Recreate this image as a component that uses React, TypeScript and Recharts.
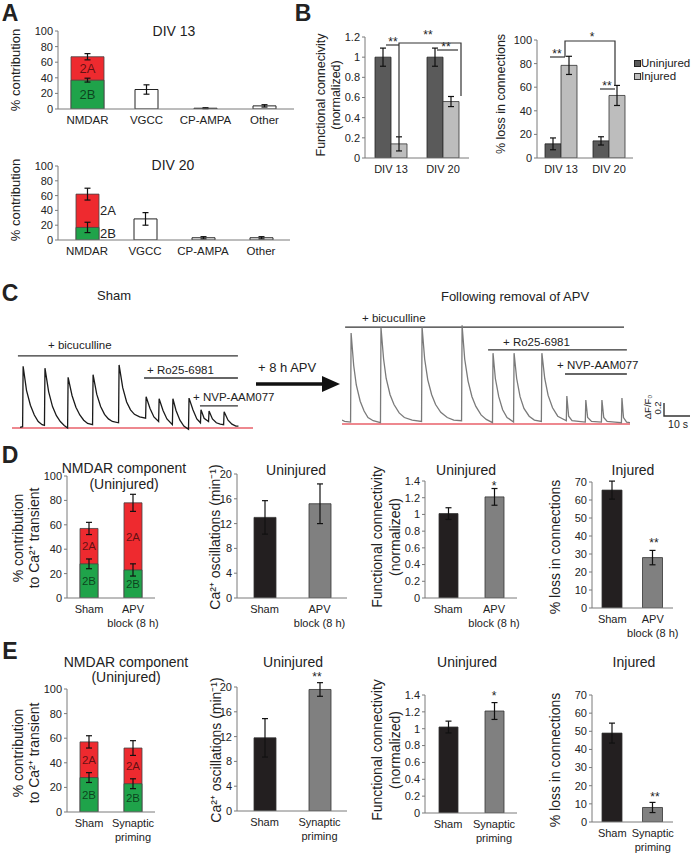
import React from "react";
import {
  BarChart,
  Bar,
  XAxis,
  YAxis,
  ErrorBar,
  Cell,
  LabelList,
  LineChart,
  Line,
  ReferenceLine,
} from "recharts";

const FONT = '"Liberation Sans", Arial, sans-serif';
const INK = "#222";
const AXIS = "#7a7a7a";
const RED = "#ee2a2f";
const GREEN = "#1fa34a";

// ---- panel A: % contribution by channel ----
const aCats = ["NMDAR", "VGCC", "CP-AMPA", "Other"];
const div13Nr2B = [37, null, null, null];
const div13Nr2BErr = [2.5, null, null, null];
const div13Nr2A = [30, null, null, null];
const div13TotalErr = [4, null, null, null];
const div13Single = [null, 25, 1, 4];
const div13SingleErr = [null, 6, 0.6, 1.5];

const div20Nr2B = [17, null, null, null];
const div20Nr2BErr = [7, null, null, null];
const div20Nr2A = [45, null, null, null];
const div20TotalErr = [8, null, null, null];
const div20Single = [null, 28.5, 3, 3];
const div20SingleErr = [null, 8.5, 1.5, 1.5];

// ---- panel B ----
const bCats = ["DIV 13", "DIV 20"];
const fcUninj = [1, 1];
const fcUninjErr = [0.09, 0.09];
const fcInj = [0.14, 0.56];
const fcInjErr = [0.07, 0.05];
const lossUninj = [12, 14.5];
const lossUninjErr = [5, 3.5];
const lossInj = [78.5, 53];
const lossInjErr = [7.7, 8.5];

// ---- panel C: Ca2+ traces, [time s, dF/F0] ----
const shamTrace: [number, number][] = [
  [0, 0.01], [1.0, 0.02], [1.2, 0.95], [2.5, 0.58], [4, 0.35], [5.5, 0.2], [7, 0.1], [8.5, 0.05], [9.4, 0.04],
  [9.6, 0.92], [11, 0.56], [12.5, 0.33], [14, 0.19], [15.5, 0.1], [17, 0.04], [18.3, 0.0],
  [18.5, 0.78], [20, 0.5], [21.5, 0.32], [23, 0.2], [24.5, 0.12], [26, 0.07], [27.9, 0.05],
  [28.1, 0.82], [29.5, 0.52], [31, 0.33], [32.5, 0.21], [34, 0.14], [35.5, 0.1], [37.9, 0.08],
  [38.1, 0.97], [39.5, 0.62], [41, 0.4], [42.5, 0.28], [44, 0.21], [46, 0.17], [48.3, 0.15],
  [48.5, 0.48], [50, 0.3], [51.5, 0.17], [53.3, 0.1],
  [53.5, 0.45], [55, 0.27], [56.5, 0.14], [58.6, 0.05],
  [58.8, 0.45], [60, 0.27], [61.5, 0.12], [63, 0.03], [64.8, -0.02],
  [65, 0.46], [66.5, 0.28], [68, 0.14], [69.4, 0.08],
  [69.6, 0.28], [70.8, 0.15], [72.5, 0.1],
  [72.7, 0.26], [74, 0.14], [75.5, 0.08], [77, 0.06], [78.3, 0.05],
  [78.5, 0.25], [80, 0.12], [81.5, 0.06], [83, 0.03], [84, 0.03],
];
const apvTrace: [number, number][] = [
  [0, 0.06], [1, 0.04], [3.3, 0.03],
  [3.5, 1.4], [4.5, 0.9], [5.5, 0.6], [7, 0.35], [8.5, 0.2], [10, 0.1], [12, 0.05], [14.8, 0.02],
  [15, 1.48], [16, 1.0], [17, 0.7], [18.5, 0.45], [20, 0.3], [22, 0.17], [24, 0.1], [27, 0.06], [30.6, 0.04],
  [30.8, 1.49], [31.8, 1.0], [33, 0.68], [34.5, 0.45], [36, 0.3], [38, 0.18], [40.5, 0.1], [43, 0.06], [46, 0.05],
  [46.2, 1.52], [47.2, 1.0], [48.5, 0.66], [50, 0.42], [51.5, 0.27], [53.5, 0.14], [55.5, 0.07], [57.9, 0.02],
  [58.1, 1.09], [59, 0.7], [60.3, 0.42], [61.8, 0.22], [63.5, 0.1], [66, 0.03],
  [66.2, 1.09], [67.2, 0.7], [68.5, 0.42], [70, 0.24], [72, 0.12], [74, 0.06], [76.7, 0.04],
  [76.9, 1.09], [78, 0.7], [79.3, 0.44], [81, 0.25], [83, 0.12], [86.3, 0.05],
  [86.5, 0.43], [87.2, 0.12], [88.5, 0.05], [91, 0.04], [93.6, 0.03],
  [93.8, 0.37], [94.5, 0.1], [96, 0.04], [99.8, 0.03],
  [100, 0.37], [100.7, 0.1], [102, 0.04], [105, 0.03], [107.5, 0.02],
  [107.7, 0.4], [108.3, 0.1], [109.5, 0.03], [110.8, 0.02],
];
// drug application bars: [start s, end s, level]
const shamDrugs: [number, number, number][] = [[-0.8, 83.8, 1.11], [47.7, 83.8, 0.77], [69.2, 83.8, 0.34]];
const apvDrugs: [number, number, number][] = [[1.2, 108.5, 1.49], [56.2, 109.6, 1.14], [85.8, 109.6, 0.77]];

// ---- panel D ----
const dCats = ["Sham", "APV\nblock (8 h)"];
const dNr2B = [28, 23];
const dNr2BErr = [4, 5];
const dNr2A = [29, 55];
const dTotalErr = [5, 7];
const dOsc = [13, 15.2];
const dOscErr = [2.7, 3.2];
const dFc = [1.01, 1.21];
const dFcErr = [0.07, 0.1];
const dLoss = [65.5, 28];
const dLossErr = [5, 4];

// ---- panel E ----
const eCats = ["Sham", "Synaptic\npriming"];
const eNr2B = [28, 23];
const eNr2BErr = [4, 4];
const eNr2A = [29, 29];
const eTotalErr = [5, 6];
const eOsc = [11.8, 19.6];
const eOscErr = [3.1, 1.1];
const eFc = [1.02, 1.21];
const eFcErr = [0.07, 0.1];
const eLoss = [49, 8];
const eLossErr = [5.5, 2.8];

type Row = Record<string, any>;

function nmdaRows(cats: string[], b: any[], bErr: any[], a: any[], totErr: any[], single?: any[], singleErr?: any[]): Row[] {
  return cats.map((cat, i) => ({
    cat,
    b: b[i],
    bErr: bErr[i],
    a: a[i],
    tot: b[i] == null ? null : b[i] + a[i],
    totErr: totErr[i],
    single: single ? single[i] : null,
    singleErr: singleErr ? singleErr[i] : null,
  }));
}

function pairRows(cats: string[], v: number[], err: number[]): Row[] {
  return cats.map((cat, i) => ({ cat, v: v[i], err: err[i] }));
}

function groupRows(cats: string[], u: number[], uErr: number[], j: number[], jErr: number[]): Row[] {
  return cats.map((cat, i) => ({ cat, u: u[i], uErr: uErr[i], j: j[i], jErr: jErr[i] }));
}

const catTick = (fs: number) => (p: any) => {
  const lines = String(p.payload.value).split("\n");
  return (
    <text x={p.x} y={p.y} textAnchor="middle" fontSize={fs} fill={INK} fontFamily={FONT}>
      {lines.map((l, i) => (
        <tspan key={i} x={p.x} dy={i === 0 ? 9 : 14}>
          {l}
        </tspan>
      ))}
    </text>
  );
};

function Txt({ x, y, children, size = 12, rot = 0, bold = false, start = false }: any) {
  return (
    <div
      style={{
        position: "absolute",
        left: x,
        top: y,
        transform: `translate(${start ? "0" : "-50%"}, -50%) rotate(${rot}deg)`,
        fontSize: size,
        fontWeight: bold ? 700 : 400,
        fontFamily: FONT,
        color: INK,
        whiteSpace: "nowrap",
        lineHeight: 1.1,
      }}
    >
      {children}
    </div>
  );
}

const Star = ({ x, y, s }: any) => (
  <Txt x={x} y={y + 3} size={12}>
    {s}
  </Txt>
);

function BarPanel({ x0, y0, x1, y1, data, domain, ticks, hidden = [], xh = 34, fs = 11, children }: any) {
  const w = 40;
  const mt = 8;
  const mr = 20;
  return (
    <div style={{ position: "absolute", left: x0 - w, top: y0 - mt }}>
      <BarChart
        width={w + x1 - x0 + mr}
        height={mt + y1 - y0 + xh}
        data={data}
        margin={{ top: mt, right: mr, left: 0, bottom: 0 }}
        barGap={0}
      >
        <XAxis
          xAxisId="a"
          dataKey="cat"
          height={xh}
          interval={0}
          tickLine={false}
          tickSize={4}
          tickMargin={2}
          axisLine={{ stroke: AXIS }}
          tick={catTick(fs)}
        />
        {hidden.map((id: string) => (
          <XAxis key={id} xAxisId={id} dataKey="cat" hide />
        ))}
        <YAxis
          width={w}
          domain={domain}
          ticks={ticks}
          interval={0}
          allowDataOverflow
          tickSize={3}
          tickMargin={2}
          axisLine={{ stroke: AXIS }}
          tickLine={{ stroke: AXIS }}
          tick={{ fontSize: 11, fill: INK, fontFamily: FONT }}
        />
        {children}
      </BarChart>
    </div>
  );
}

// label for the 2A / 2B parts of the NMDAR bar
const tag = (rows: Row[], which: "a" | "b", outside: boolean, size: number) => (p: any) => {
  const row = rows[p.index];
  if (!row || row.b == null) return null;
  const vb = p.viewBox && p.viewBox.width != null ? p.viewBox : p;
  const { x, y, width, height } = vb;
  const cy = which === "b" ? y + height / 2 : y + (height * (row.a / row.tot)) / 2;
  const cx = outside ? x + width + 1 : x + width / 2;
  return (
    <text
      key={`${which}-${p.index}`}
      x={cx}
      y={cy}
      dy="0.36em"
      textAnchor={outside ? "start" : "middle"}
      fontSize={size}
      fontFamily={FONT}
      fill={outside ? INK : "#000"}
      fillOpacity={outside ? 1 : 0.6}
    >
      {which === "a" ? "2A" : "2B"}
    </text>
  );
};

function NmdaBars({ rows, size, outside, tagSize }: any) {
  return [
    <Bar key="tot" xAxisId="b" dataKey="tot" fill={RED} stroke="#444" strokeWidth={0.8} barSize={size} isAnimationActive={false}>
      <ErrorBar dataKey="totErr" width={3} stroke="#111" strokeWidth={1.2} />
      <LabelList dataKey="tot" content={tag(rows, "a", !!outside, tagSize)} />
    </Bar>,
    <Bar key="b" xAxisId={outside === null ? "a" : "c"} dataKey="b" fill={GREEN} stroke="#444" strokeWidth={0.8} barSize={size} isAnimationActive={false}>
      <ErrorBar dataKey="bErr" width={3} stroke="#111" strokeWidth={1.2} />
      <LabelList dataKey="b" content={tag(rows, "b", !!outside, tagSize)} />
    </Bar>,
  ];
}

function Trace({ left, top, width, height, xDomain, yDomain, pts, color, drugs }: any) {
  const data = pts.map(([t, v]: [number, number]) => ({ t, v }));
  return (
    <div style={{ position: "absolute", left, top }}>
      <LineChart width={width} height={height} data={data} margin={{ top: 0, right: 0, left: 0, bottom: 0 }}>
        <XAxis type="number" dataKey="t" domain={xDomain} hide allowDataOverflow />
        <YAxis type="number" domain={yDomain} hide allowDataOverflow />
        <ReferenceLine y={0} stroke="#e8606a" strokeWidth={1.4} />
        {drugs.map(([s, e, lv]: [number, number, number], i: number) => (
          <ReferenceLine
            key={i}
            segment={[
              { x: s, y: lv },
              { x: e, y: lv },
            ]}
            stroke="#333"
            strokeWidth={1.4}
          />
        ))}
        <Line dataKey="v" type="linear" stroke={color} strokeWidth={1.3} dot={false} isAnimationActive={false} />
      </LineChart>
    </div>
  );
}

const div13Rows = nmdaRows(aCats, div13Nr2B, div13Nr2BErr, div13Nr2A, div13TotalErr, div13Single, div13SingleErr);
const div20Rows = nmdaRows(aCats, div20Nr2B, div20Nr2BErr, div20Nr2A, div20TotalErr, div20Single, div20SingleErr);
const dNmdaRows = nmdaRows(dCats, dNr2B, dNr2BErr, dNr2A, dTotalErr);
const eNmdaRows = nmdaRows(eCats, eNr2B, eNr2BErr, eNr2A, eTotalErr);
const fcRows = groupRows(bCats, fcUninj, fcUninjErr, fcInj, fcInjErr);
const lossRows = groupRows(bCats, lossUninj, lossUninjErr, lossInj, lossInjErr);

const SHADES = ["#231f20", "#808080"];

function PairBars({ size }: { size: number }) {
  return (
    <Bar xAxisId="a" dataKey="v" barSize={size} stroke="#333" strokeWidth={0.8} isAnimationActive={false}>
      {SHADES.map((c, i) => (
        <Cell key={i} fill={c} />
      ))}
      <ErrorBar dataKey="err" width={3} stroke="#111" strokeWidth={1.2} />
    </Bar>
  );
}

function AChart({ rows, y0, y1, x1, size, outside }: any) {
  return (
    <BarPanel x0={58} y0={y0} x1={x1} y1={y1} data={rows} domain={[0, 100]} ticks={[0, 20, 40, 60, 80, 100]} hidden={["b", "c"]} xh={20} fs={11.5}>
      <Bar xAxisId="a" dataKey="single" fill="#fff" stroke="#222" strokeWidth={1} barSize={23} isAnimationActive={false}>
        <ErrorBar dataKey="singleErr" width={3} stroke="#111" strokeWidth={1.2} />
      </Bar>
      {NmdaBars({ rows, size, outside, tagSize: 13 })}
    </BarPanel>
  );
}

function GroupChart({ x0, x1, y0, y1, rows, domain, ticks }: any) {
  return (
    <BarPanel x0={x0} y0={y0} x1={x1} y1={y1} data={rows} domain={domain} ticks={ticks} xh={20}>
      <Bar xAxisId="a" dataKey="u" fill="#5a5a5a" stroke="#222" strokeWidth={0.8} barSize={16} isAnimationActive={false}>
        <ErrorBar dataKey="uErr" width={3} stroke="#111" strokeWidth={1.2} />
      </Bar>
      <Bar xAxisId="a" dataKey="j" fill="#bdbdbd" stroke="#333" strokeWidth={0.8} barSize={16} isAnimationActive={false}>
        <ErrorBar dataKey="jErr" width={3} stroke="#111" strokeWidth={1.2} />
      </Bar>
    </BarPanel>
  );
}

function StackChart({ y0, y1, rows }: any) {
  return (
    <BarPanel x0={67} y0={y0} x1={155} y1={y1} data={rows} domain={[0, 100]} ticks={[0, 20, 40, 60, 80, 100]} hidden={["b"]}>
      {NmdaBars({ rows, size: 18, outside: null, tagSize: 11.5 })}
    </BarPanel>
  );
}

function DEPanel({ cats, top, y1s, nmda, osc, oscErr, fc, fcErr, loss, lossErr }: any) {
  return (
    <>
      <StackChart y0={top[0]} y1={y1s[0]} rows={nmda} />
      <BarPanel x0={237} y0={top[1]} x1={347} y1={y1s[1]} data={pairRows(cats, osc, oscErr)} domain={[0, 20]} ticks={[0, 4, 8, 12, 16, 20]}>
        {PairBars({ size: 22 })}
      </BarPanel>
      <BarPanel x0={425} y0={top[2]} x1={517} y1={y1s[2]} data={pairRows(cats, fc, fcErr)} domain={[0, 1.4]} ticks={[0, 0.2, 0.4, 0.6, 0.8, 1, 1.2, 1.4]}>
        {PairBars({ size: 19 })}
      </BarPanel>
      <BarPanel x0={592} y0={top[3]} x1={673} y1={y1s[3]} data={pairRows(cats, loss, lossErr)} domain={[0, 70]} ticks={[0, 10, 20, 30, 40, 50, 60, 70]}>
        {PairBars({ size: 20 })}
      </BarPanel>
    </>
  );
}

export default function App() {
  return (
    <div style={{ position: "absolute", left: 0, top: 0, width: 694, height: 853, background: "#fff", overflow: "hidden", fontFamily: FONT }}>
      {/* panel letters */}
      <Txt x={10} y={14} size={23} bold>A</Txt>
      <Txt x={303} y={14} size={23} bold>B</Txt>
      <Txt x={10} y={294} size={23} bold>C</Txt>
      <Txt x={10} y={456} size={23} bold>D</Txt>
      <Txt x={10} y={652} size={23} bold>E</Txt>

      {/* A */}
      <AChart rows={div13Rows} y0={31} y1={109} x1={294} size={33} outside={false} />
      <AChart rows={div20Rows} y0={166} y1={240} x1={290} size={23} outside={true} />
      <Txt x={174} y={32} size={14}>DIV 13</Txt>
      <Txt x={173} y={166} size={14}>DIV 20</Txt>
      <Txt x={16} y={70} size={13} rot={-90}>% contribution</Txt>
      <Txt x={16} y={200} size={13} rot={-90}>% contribution</Txt>

      {/* B */}
      <GroupChart x0={365} x1={469} y0={37} y1={158} rows={fcRows} domain={[0, 1.2]} ticks={[0, 0.2, 0.4, 0.6, 0.8, 1, 1.2]} />
      <GroupChart x0={537} x1={633} y0={40} y1={158} rows={lossRows} domain={[0, 100]} ticks={[0, 20, 40, 60, 80, 100]} />
      <Txt x={322} y={95} size={12.5} rot={-90}>Functional connecivity</Txt>
      <Txt x={337} y={95} size={12.5} rot={-90}>(normalized)</Txt>
      <Txt x={502} y={94} size={12.5} rot={-90}>% loss in connections</Txt>
      <Star x={393} y={40} s="**" />
      <Star x={428} y={33} s="**" />
      <Star x={446} y={45} s="**" />
      <Star x={557} y={52} s="**" />
      <Star x={592} y={35} s="*" />
      <Star x={607} y={84} s="**" />
      <div style={{ position: "absolute", left: 634, top: 60, width: 5, height: 5, background: "#5a5a5a", border: "1px solid #222" }} />
      <div style={{ position: "absolute", left: 634, top: 73, width: 5, height: 5, background: "#bdbdbd", border: "1px solid #333" }} />
      <Txt x={641} y={63} size={11.5} start>Uninjured</Txt>
      <Txt x={641} y={76} size={11.5} start>Injured</Txt>

      {/* C */}
      <Txt x={114} y={296} size={13}>Sham</Txt>
      <Txt x={515} y={297} size={13}>Following removal of APV</Txt>
      <Trace left={12} top={350} width={241} height={91} xDomain={[-3.08, 89.6]} yDomain={[-0.2, 1.2]} pts={shamTrace} color="#1a1a1a" drugs={shamDrugs} />
      <Trace left={342} top={320} width={288} height={117} xDomain={[0, 110.8]} yDomain={[-0.2, 1.6]} pts={apvTrace} color="#7a7a7a" drugs={apvDrugs} />
      <Txt x={48} y={345} size={11.5} start>+ bicuculline</Txt>
      <Txt x={147} y={370} size={11.5} start>+ Ro25-6981</Txt>
      <Txt x={193} y={397} size={11.5} start>+ NVP-AAM077</Txt>
      <Txt x={362} y={318} size={11.5} start>+ bicuculline</Txt>
      <Txt x={503} y={342} size={11.5} start>+ Ro25-6981</Txt>
      <Txt x={557} y={365} size={11.5} start>+ NVP-AAM077</Txt>
      <Txt x={258} y={368} size={13} start>+ 8 h APV</Txt>
      <Txt x={648} y={407} size={9.5} rot={-90}>ΔF/F₀</Txt>
      <Txt x={657.5} y={408} size={9.5} rot={-90}>0.2</Txt>
      <Txt x={678} y={425} size={10.5}>10 s</Txt>

      {/* D */}
      <DEPanel
        cats={dCats}
        top={[476, 474, 481, 482]}
        y1s={[598, 598, 598, 608]}
        nmda={dNmdaRows}
        osc={dOsc}
        oscErr={dOscErr}
        fc={dFc}
        fcErr={dFcErr}
        loss={dLoss}
        lossErr={dLossErr}
      />
      <Txt x={124} y={469} size={14}>NMDAR component</Txt>
      <Txt x={124} y={485} size={14}>(Uninjured)</Txt>
      <Txt x={296} y={471} size={14}>Uninjured</Txt>
      <Txt x={466} y={471} size={14}>Uninjured</Txt>
      <Txt x={633} y={471} size={14}>Injured</Txt>
      <Txt x={19} y={538} size={14} rot={-90}>% contribution</Txt>
      <Txt x={35} y={538} size={14} rot={-90}>to Ca²⁺ transient</Txt>
      <Txt x={216} y={537} size={14} rot={-90}>Ca²⁺ oscillations  (min⁻¹)</Txt>
      <Txt x={378} y={537} size={14} rot={-90}>Functional connectivity</Txt>
      <Txt x={396} y={537} size={14} rot={-90}>(normalized)</Txt>
      <Txt x={556} y={547} size={14} rot={-90}>% loss in connections</Txt>
      <Star x={494} y={484} s="*" />
      <Star x={654} y={541} s="**" />

      {/* E */}
      <DEPanel
        cats={eCats}
        top={[689, 687, 695, 695]}
        y1s={[812, 811, 813, 822]}
        nmda={eNmdaRows}
        osc={eOsc}
        oscErr={eOscErr}
        fc={eFc}
        fcErr={eFcErr}
        loss={eLoss}
        lossErr={eLossErr}
      />
      <Txt x={126} y={663} size={14}>NMDAR component</Txt>
      <Txt x={126} y={678} size={14}>(Uninjured)</Txt>
      <Txt x={293} y={663} size={14}>Uninjured</Txt>
      <Txt x={467} y={663} size={14}>Uninjured</Txt>
      <Txt x={634} y={663} size={14}>Injured</Txt>
      <Txt x={19} y={753} size={14} rot={-90}>% contribution</Txt>
      <Txt x={35} y={753} size={14} rot={-90}>to Ca²⁺ transient</Txt>
      <Txt x={217} y={750} size={14} rot={-90}>Ca²⁺ oscillations  (min⁻¹)</Txt>
      <Txt x={378} y={750} size={14} rot={-90}>Functional connectivity</Txt>
      <Txt x={396} y={750} size={14} rot={-90}>(normalized)</Txt>
      <Txt x={556} y={760} size={14} rot={-90}>% loss in connections</Txt>
      <Star x={317} y={675} s="**" />
      <Star x={494} y={694} s="*" />
      <Star x={655} y={795} s="**" />

      {/* brackets, arrow, scale bar */}
      <svg width={694} height={853} style={{ position: "absolute", left: 0, top: 0, pointerEvents: "none" }}>
        <g stroke="#333" strokeWidth={1.2} fill="none">
          <line x1={386} y1={45} x2={399} y2={45} />
          <polyline points="399,137 399,43 461,43 461,96" />
          <line x1={437} y1={50} x2={458} y2={50} />
          <line x1={550} y1={57} x2={565} y2={57} />
          <polyline points="565,57 565,41 615,41 615,86" />
          <line x1={600} y1={89} x2={615} y2={89} />
        </g>
        <line x1={256} y1={384} x2={326} y2={384} stroke="#111" strokeWidth={3.5} />
        <polygon points="322,376 340,384 322,392" fill="#111" />
        <polyline points="664,403 664,416 690,416" stroke="#333" strokeWidth={1.4} fill="none" />
      </svg>
    </div>
  );
}
